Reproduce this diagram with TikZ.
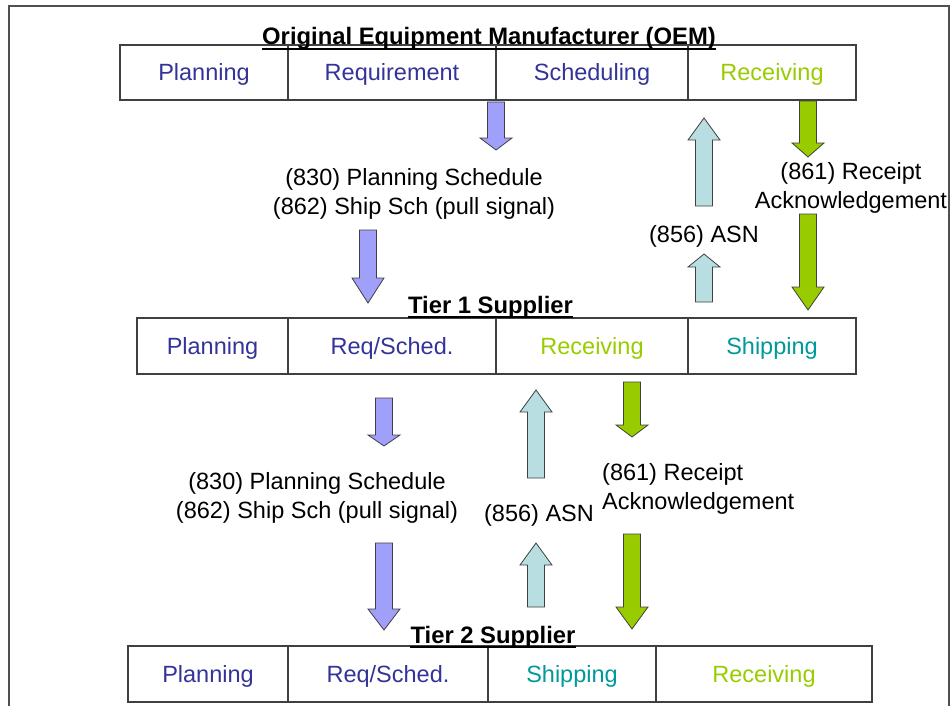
\documentclass[tikz,border=0pt]{standalone}
\usepackage{fontspec}
\setmainfont{Liberation Sans}
\definecolor{txtblue}{RGB}{51,51,153}
\definecolor{txtgreen}{RGB}{153,204,0}
\definecolor{txtteal}{RGB}{0,153,153}
\definecolor{arrblue}{RGB}{160,160,250}
\definecolor{arrlight}{RGB}{185,222,226}
\definecolor{arrgreen}{RGB}{153,204,0}
\definecolor{boxline}{RGB}{64,64,64}
\definecolor{framecol}{RGB}{80,80,80}
\newcommand\blkarrow[5]{\filldraw[arrowline, fill=#5] ({#1-8.5},#2) -- ({#1+8.5},#2) -- ({#1+8.5},#3) -- ({#1+16},#3) -- (#1,#4) -- ({#1-16},#3) -- ({#1-8.5},#3) -- cycle;}
\tikzset{
  cell/.style={draw=boxline, line width=1.2pt, inner sep=0pt, text height=18pt, text depth=2pt, font=\fontsize{23.5}{30}\selectfont},
  lbl/.style={inner sep=0pt, align=center, font=\fontsize{23.5}{29.5}\selectfont},
  ttl/.style={inner sep=0pt, anchor=base, font=\fontsize{23.8}{30}\selectfont\bfseries},
  arrowline/.style={draw=black!75, line width=0.8pt},
  uline/.style={line width=2pt, black}
}
\begin{document}
\begin{tikzpicture}[x=1pt,y=-1pt]
\useasboundingbox (0,0) rectangle (952,706);
% frame
\draw[framecol, line width=1.5pt] (9,706) -- (9,6) -- (949,6) -- (949,706);
% OEM row
\node[cell, minimum width=168, minimum height=55, text=txtblue] (o1) at (204,72.5) {Planning};
\node[cell, minimum width=208, minimum height=55, text=txtblue] (o2) at (392,72.5) {Requirement};
\node[cell, minimum width=192, minimum height=55, text=txtblue] (o3) at (592,72.5) {Scheduling};
\node[cell, minimum width=168, minimum height=55, text=txtgreen] (o4) at (772,72.5) {Receiving};
% Tier 1 row
\node[cell, minimum width=151, minimum height=56, text=txtblue] (a1) at (212.5,346) {Planning};
\node[cell, minimum width=208, minimum height=56, text=txtblue] (a2) at (392,346) {Req/Sched.};
\node[cell, minimum width=192, minimum height=56, text=txtgreen] (a3) at (592,346) {Receiving};
\node[cell, minimum width=168, minimum height=56, text=txtteal] (a4) at (772,346) {Shipping};
% Tier 2 row
\node[cell, minimum width=160, minimum height=56, text=txtblue] (b1) at (208,674) {Planning};
\node[cell, minimum width=200, minimum height=56, text=txtblue] (b2) at (388,674) {Req/Sched.};
\node[cell, minimum width=168, minimum height=56, text=txtteal] (b3) at (572,674) {Shipping};
\node[cell, minimum width=216, minimum height=56, text=txtgreen] (b4) at (764,674) {Receiving};
% titles
\node[ttl] (t0) at (489,45) {Original Equipment Manufacturer (OEM)};
\draw[uline] ([yshift=-4pt]t0.base west) -- ([yshift=-4pt]t0.base east);
\node[ttl] (t1) at (490.5,313) {Tier 1 Supplier};
\draw[uline] ([yshift=-4pt]t1.base west) -- ([yshift=-4pt]t1.base east);
\node[ttl] (t2) at (493,643) {Tier 2 Supplier};
\draw[uline] ([yshift=-4pt]t2.base west) -- ([yshift=-4pt]t2.base east);
% labels
\node[lbl] (l1) at (414,194) {(830) Planning Schedule\\(862) Ship Sch (pull signal)};
\node[lbl] (l2) at (851,188) {(861) Receipt\\Acknowledgement};
\node[lbl] (l3) at (704,236) {(856) ASN};
\node[lbl] (l4) at (317,498) {(830) Planning Schedule\\(862) Ship Sch (pull signal)};
\node[lbl] (l5) at (539,515) {(856) ASN};
\node[lbl, anchor=west, align=left] (l6) at (602,489) {(861) Receipt\\Acknowledgement};
% arrows
\blkarrow{496}{102}{138}{150}{arrblue}
\blkarrow{368}{230}{278}{303}{arrblue}
\blkarrow{808}{101}{143}{157}{arrgreen}
\blkarrow{808}{214}{287}{310}{arrgreen}
\blkarrow{704}{206}{140}{118}{arrlight}
\blkarrow{704}{302}{267}{254}{arrlight}
\blkarrow{384}{398}{435}{446}{arrblue}
\blkarrow{384}{543}{609}{630}{arrblue}
\blkarrow{536}{478}{412}{390}{arrlight}
\blkarrow{536}{607}{565}{543}{arrlight}
\blkarrow{632}{382}{425}{437}{arrgreen}
\blkarrow{632}{534}{607}{629}{arrgreen}
\end{tikzpicture}
\end{document}
